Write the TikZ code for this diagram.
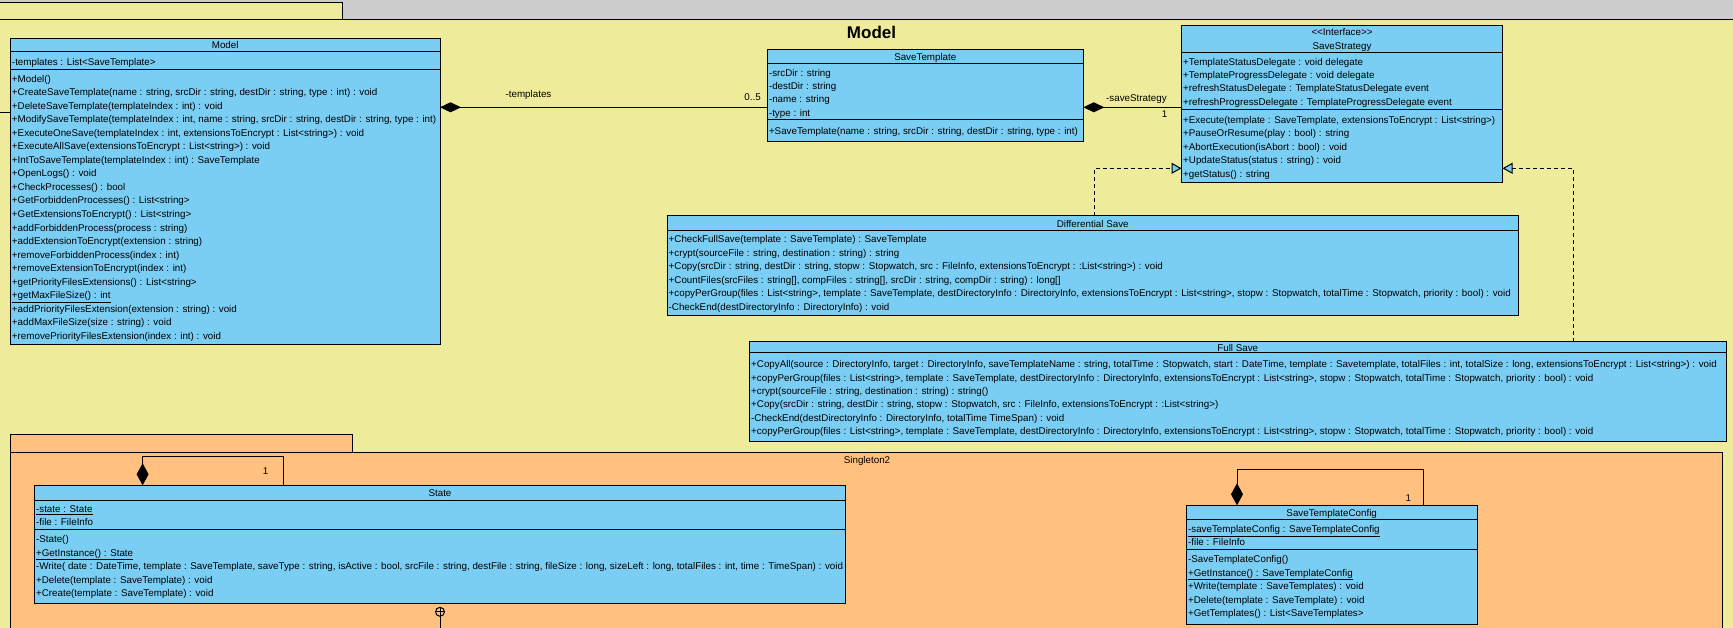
\documentclass[tikz,border=0pt]{standalone}
\usepackage{fontspec}
\setmainfont{Liberation Sans}
\usetikzlibrary{arrows.meta}

\definecolor{bggray}{HTML}{CCCCCC}
\definecolor{pkgyellow}{HTML}{EEEC9A}
\definecolor{pkgorange}{HTML}{FFC080}
\definecolor{clsblue}{HTML}{7ACEF4}

% class rectangle: name, x1, y1, x2, y2
\newcommand\umlbox[5]{\node[classbox, minimum width={(#4)-(#2)}, minimum height={(#5)-(#3)}, anchor=north west] (#1) at (#2,#3) {};}
% compartment separator: class name, y
\newcommand\umlsep[2]{\draw[sep] (#1.west |- 0,#2) -- (#1.east |- 0,#2);}
% member lines: name prefix, x, y of first line, line step, list
\newcommand\umlmembers[5]{\foreach \mtext [count=\mi] in {#5} {\node[mbr] (#1\mi) at (#2, {#3+(\mi-1)*#4}) {\mtext};}}

\tikzset{
  classbox/.style={draw, fill=clsblue, line width=1pt, inner sep=0pt, outer sep=0pt},
  mbr/.style={anchor=base west, inner sep=0pt, font=\fontsize{9.8}{12}\selectfont, yshift=-3.4pt},
  hdr/.style={anchor=base, inner sep=0pt, font=\fontsize{9.8}{12}\selectfont, yshift=-3.4pt},
  lbl/.style={inner sep=0pt, font=\fontsize{9.8}{12}\selectfont, yshift=-3.4pt},
  sep/.style={line width=1pt},
  assoc/.style={line width=1pt},
  compo/.style={line width=1pt, {Diamond[length=21pt,width=10pt]}-},
  vcompo/.style={line width=1pt, {Diamond[length=22pt,width=12pt]}-},
  real/.style={line width=1pt, dash pattern=on 4pt off 3pt, -{Triangle[length=10pt,width=11pt,fill=clsblue]}},
}

\begin{document}
\begin{tikzpicture}[x=1pt,y=-1pt]
\useasboundingbox (0,0) rectangle (1733,628);
\clip (0,0) rectangle (1733,628);
\fill[bggray] (0,0) rectangle (1733,628);

% package Model
\filldraw[fill=pkgyellow, draw=black, line width=1pt] (-5,2.3) rectangle (342,20);
\filldraw[fill=pkgyellow, draw=black, line width=1pt] (-5,20) rectangle (1745,640);
\node[anchor=base, inner sep=0pt, font=\fontsize{17}{20}\selectfont\bfseries] (pkgmodel) at (871.5,38.5) {Model};

% package Singleton2
\filldraw[fill=pkgorange, draw=black, line width=1pt] (10.3,434.3) rectangle (352.7,452.3);
\filldraw[fill=pkgorange, draw=black, line width=1pt] (10.3,452.3) rectangle (1722.5,645);
\node[hdr] (pkgsingleton) at (867,459.7) {Singleton2};

% ---- Model
\umlbox{model}{10.3}{38.5}{440}{345}
\umlsep{model}{52}
\umlsep{model}{70}
\node[hdr] (modelname) at (225.2,45.5) {Model};
\umlmembers{modelat}{11.8}{61.7}{13.5}{{-templates : List<SaveTemplate>}}
\umlmembers{modelop}{11.8}{79}{13.51}{
  {+Model()},
  {+CreateSaveTemplate(name : string, srcDir : string, destDir : string, type : int) : void},
  {+DeleteSaveTemplate(templateIndex : int) : void},
  {+ModifySaveTemplate(templateIndex : int, name : string, srcDir : string, destDir : string, type : int)},
  {+ExecuteOneSave(templateIndex : int, extensionsToEncrypt : List<string>) : void},
  {+ExecuteAllSave(extensionsToEncrypt : List<string>) : void},
  {+IntToSaveTemplate(templateIndex : int) : SaveTemplate},
  {+OpenLogs() : void},
  {+CheckProcesses() : bool},
  {+GetForbiddenProcesses() : List<string>},
  {+GetExtensionsToEncrypt() : List<string>},
  {+addForbiddenProcess(process : string)},
  {+addExtensionToEncrypt(extension : string)},
  {+removeForbiddenProcess(index : int)},
  {+removeExtensionToEncrypt(index : int)},
  {+getPriorityFilesExtensions() : List<string>},
  {\underline{+getMaxFileSize() : int}},
  {+addPriorityFilesExtension(extension : string) : void},
  {+addMaxFileSize(size : string) : void},
  {+removePriorityFilesExtension(index : int) : void}}

% ---- SaveTemplate
\umlbox{st}{767.3}{49.3}{1083.3}{142}
\umlsep{st}{63.3}
\umlsep{st}{120}
\node[hdr] (stname) at (925.3,56.7) {SaveTemplate};
\umlmembers{stat}{768.8}{72.7}{13.35}{
  {-srcDir : string},{-destDir : string},{-name : string},{-type : int}}
\umlmembers{stop}{768.8}{130.7}{13.4}{
  {+SaveTemplate(name : string, srcDir : string, destDir : string, type : int)}}

% ---- SaveStrategy
\umlbox{ss}{1181.5}{25.7}{1502.5}{182.3}
\umlsep{ss}{52.7}
\umlsep{ss}{109.3}
\node[hdr] (ssstereo) at (1342,32.5) {<{}<Interface>{}>};
\node[hdr] (ssname) at (1342,46.3) {SaveStrategy};
\umlmembers{ssat}{1183}{61.7}{13.45}{
  {+TemplateStatusDelegate : void delegate},
  {+TemplateProgressDelegate : void delegate},
  {+refreshStatusDelegate : TemplateStatusDelegate event},
  {+refreshProgressDelegate : TemplateProgressDelegate event}}
\umlmembers{ssop}{1183}{120}{13.42}{
  {+Execute(template : SaveTemplate, extensionsToEncrypt : List<string>)},
  {+PauseOrResume(play : bool) : string},
  {+AbortExecution(isAbort : bool) : void},
  {+UpdateStatus(status : string) : void},
  {+getStatus() : string}}

% ---- DifferentialSave
\umlbox{ds}{667}{216}{1518.5}{316}
\umlsep{ds}{231}
\node[hdr] (dsname) at (1092.75,224.3) {Differential Save};
\umlmembers{dsop}{668.5}{239.3}{13.54}{
  {+CheckFullSave(template : SaveTemplate) : SaveTemplate},
  {+crypt(sourceFile : string, destination : string) : string},
  {+Copy(srcDir : string, destDir : string, stopw : Stopwatch, src : FileInfo, extensionsToEncrypt : :List<string>) : void},
  {+CountFiles(srcFiles : string[], compFiles : string[], srcDir : string, compDir : string) : long[]},
  {+copyPerGroup(files : List<string>, template : SaveTemplate, destDirectoryInfo : DirectoryInfo, extensionsToEncrypt : List<string>, stopw : Stopwatch, totalTime : Stopwatch, priority : bool) : void},
  {-CheckEnd(destDirectoryInfo : DirectoryInfo) : void}}

% ---- FullSave
\umlbox{fs}{749.5}{341.7}{1726}{441}
\umlsep{fs}{352.3}
\node[hdr] (fsname) at (1237.75,348) {Full Save};
\umlmembers{fsop}{751}{364.3}{13.34}{
  {+CopyAll(source : DirectoryInfo, target : DirectoryInfo, saveTemplateName : string, totalTime : Stopwatch, start : DateTime, template : Savetemplate, totalFiles : int, totalSize : long, extensionsToEncrypt : List<string>) : void},
  {+copyPerGroup(files : List<string>, template : SaveTemplate, destDirectoryInfo : DirectoryInfo, extensionsToEncrypt : List<string>, stopw : Stopwatch, totalTime : Stopwatch, priority : bool) : void},
  {+crypt(sourceFile : string, destination : string) : string()},
  {+Copy(srcDir : string, destDir : string, stopw : Stopwatch, src : FileInfo, extensionsToEncrypt : :List<string>)},
  {-CheckEnd(destDirectoryInfo : DirectoryInfo, totalTime TimeSpan) : void},
  {+copyPerGroup(files : List<string>, template : SaveTemplate, destDirectoryInfo : DirectoryInfo, extensionsToEncrypt : List<string>, stopw : Stopwatch, totalTime : Stopwatch, priority : bool) : void}}

% ---- State
\umlbox{state}{34.4}{485.3}{845.7}{603.3}
\umlsep{state}{500}
\umlsep{state}{529.3}
\node[hdr] (statename) at (440,492.7) {State};
\umlmembers{stateat}{35.9}{509}{12.7}{
  {\underline{-state : State}},{-file : FileInfo}}
\umlmembers{stateop}{35.9}{539.3}{13.55}{
  {-State()},
  {\underline{+GetInstance() : State}},
  {-Write( date : DateTime, template : SaveTemplate, saveType : string, isActive : bool, srcFile : string, destFile : string, fileSize : long, sizeLeft : long, totalFiles : int, time : TimeSpan) : void},
  {+Delete(template : SaveTemplate) : void},
  {+Create(template : SaveTemplate) : void}}

% ---- SaveTemplateConfig
\umlbox{stc}{1186.4}{505.3}{1477}{624.3}
\umlsep{stc}{519.3}
\umlsep{stc}{549.3}
\node[hdr] (stcname) at (1331.7,512.7) {SaveTemplateConfig};
\umlmembers{stcat}{1187.9}{529}{12.7}{
  {\underline{-saveTemplateConfig : SaveTemplateConfig}},{-file : FileInfo}}
\umlmembers{stcop}{1187.9}{559.3}{13.5}{
  {-SaveTemplateConfig()},
  {\underline{+GetInstance() : SaveTemplateConfig}},
  {+Write(template : SaveTemplates) : void},
  {+Delete(template : SaveTemplate) : void},
  {+GetTemplates() : List<SaveTemplates>}}

% ---- connectors
% Model <>-- SaveTemplate
\draw[compo] (model.east |- 0,107.3) -- (st.west |- 0,107.3);
\node[lbl, anchor=base] (lbltemplates) at (528.5,94) {-templates};
\node[lbl, anchor=base east] (lblmult) at (761,97) {0..5};

% SaveTemplate <>-- SaveStrategy
\draw[compo] (st.east |- 0,107.3) -- (ss.west |- 0,107.3);
\node[lbl, anchor=base west] (lblstrategy) at (1106,98) {-saveStrategy};
\node[lbl, anchor=base] (lblone) at (1164.5,114) {1};

% realizations of SaveStrategy
\draw[real] (ds.north -| 1094.3,0) |- (ss.west |- 0,168.3);
\draw[real] (fs.north -| 1573.2,0) |- (ss.east |- 0,168.3);

% connector entering Model from the left
\coordinate (leftend) at (-2,113);
\draw[assoc] (leftend) -- (model.west |- 0,113);

% singleton self-compositions
\draw[vcompo] (state.north -| 142.6,0) |- (283,456) -- (state.north -| 283,0);
\node[lbl, anchor=base] (stateone) at (265.5,471) {1};
\draw[vcompo] (stc.north -| 1237,0) |- (1423.2,469.3) -- (stc.north -| 1423.2,0);
\node[lbl, anchor=base] (stcone) at (1408.4,497.7) {1};

% nesting connector below State
\node[circle, draw, line width=1pt, minimum size=9pt, inner sep=0pt] (nest) at (440,611.8) {};
\draw[line width=0.8pt] (nest.north) -- (nest.south) (nest.west) -- (nest.east);
\coordinate (nestend) at (440,640);
\draw[assoc] (nest.south) -- (nestend);
\end{tikzpicture}
\end{document}
